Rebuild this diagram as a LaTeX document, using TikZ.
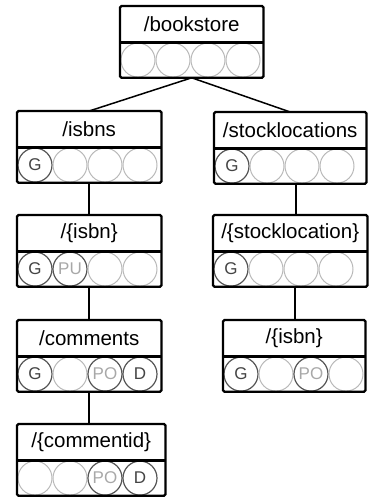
\documentclass[tikz,border=0pt]{standalone}
\usepackage{fontspec}
\setmainfont{Liberation Sans}
\definecolor{ringdark}{HTML}{555555}
\definecolor{ringlight}{HTML}{B8B8B8}
\definecolor{txtdark}{HTML}{444444}
\definecolor{txtlight}{HTML}{A8A8A8}
\tikzset{
  titlebox/.style={rectangle, inner sep=0pt, anchor=north west, minimum height=36pt,
    font=\fontsize{20.5}{24}\selectfont},
  rowbox/.style={rectangle, inner sep=0pt, anchor=north west, minimum height=35pt},
  frame/.style={draw=black, line width=2.3pt, rounded corners=1.5pt},
  divider/.style={draw=black, line width=2.3pt},
  link/.style={draw=black, line width=1.5pt},
  opbase/.style={circle, inner sep=0pt, minimum size=34pt, font=\fontsize{17}{20}\selectfont},
  opon/.style={opbase, draw=ringdark, line width=1.2pt, text=txtdark},
  opdim/.style={opbase, draw=ringdark, line width=1.2pt, text=txtlight},
  opoff/.style={opbase, draw=ringlight, line width=1pt},
}
% one resource: title cell over a row of four method circles
\newcommand\resource[6]{% name, x, y, width, title, circle list
  \node[titlebox, minimum width=#4pt] (#1) at (#2,#3) {#5};
  \node[rowbox, minimum width=#4pt] (#1-row) at (#1.south west) {};
  \foreach \s/\t [count=\k from 0] in {#6}
    \path (#1-row.west) ++(18+35*\k,0) node[\s] (#1-op\k) {\t};
  \draw[frame] (#1.north west) rectangle (#1-row.south east);
  \draw[divider] (#1.south west) -- (#1.south east);
}
\begin{document}
\begin{tikzpicture}[x=1pt,y=-1pt]
\useasboundingbox (0,0) rectangle (368,497);
\resource{bookstore}{120}{6}{143}{/bookstore}{opoff/,opoff/,opoff/,opoff/}
\resource{isbns}{17}{111}{144}{/isbns}{opon/G,opoff/,opoff/,opoff/}
\resource{isbn}{17}{215}{144}{/\{isbn\}}{opon/G,opdim/PU,opoff/,opoff/}
\resource{comments}{17}{320}{144}{/comments}{opon/G,opoff/,opdim/PO,opon/D}
\resource{commentid}{17}{424}{148}{/\{commentid\}}{opoff/,opoff/,opdim/PO,opon/D}
\resource{stocklocations}{214}{112}{152}{/stocklocations}{opon/G,opoff/,opoff/,opoff/}
\resource{stocklocation}{213}{215}{154}{/\{stocklocation\}}{opon/G,opoff/,opoff/,opoff/}
\resource{stockisbn}{223}{320}{142}{/\{isbn\}}{opon/G,opoff/,opdim/PO,opoff/}
% connectors
\draw[link] (bookstore-row.south) -- (isbns.north);
\draw[link] (bookstore-row.south) -- (stocklocations.north);
\draw[link] (isbns-row.south) -- (isbn.north);
\draw[link] (isbn-row.south) -- (comments.north);
\draw[link] (comments-row.south) -- (commentid.north -| comments-row.south);
\draw[link] ([xshift=6pt]stocklocations-row.south) -- ([xshift=6pt]stocklocation.north);
\draw[link] ([xshift=5pt]stocklocation-row.south) -- ([xshift=1pt]stockisbn.north);
\end{tikzpicture}
\end{document}
